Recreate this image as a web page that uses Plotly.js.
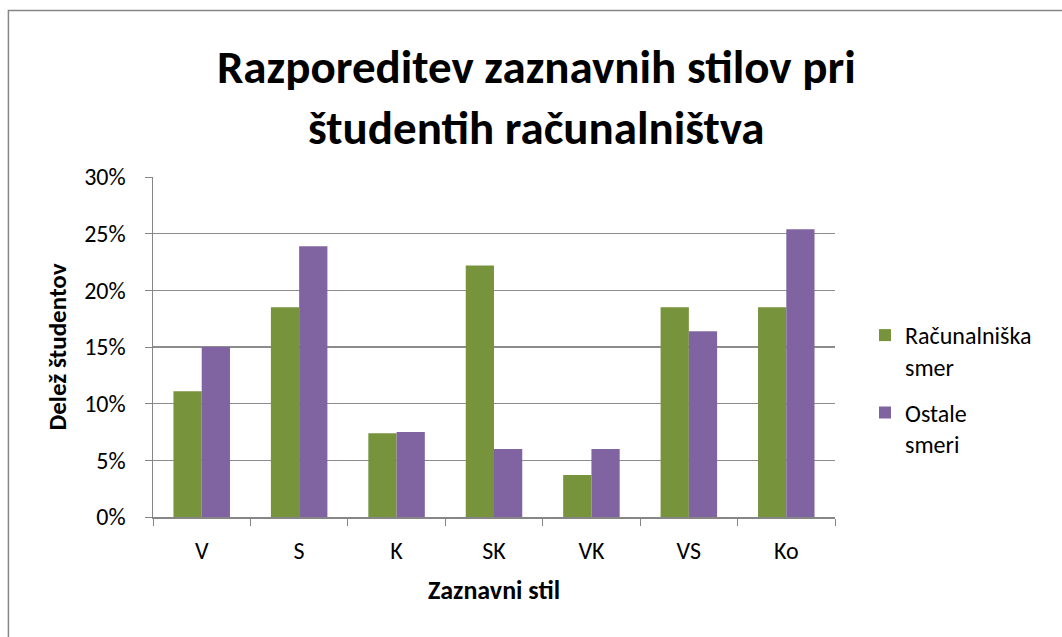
<!DOCTYPE html>
<html>
<head>
<meta charset="utf-8">
<script src="https://cdn.plot.ly/plotly-3.0.1.min.js"></script>
<style>html,body{margin:0;padding:0;background:#fff;}#chart{width:1062px;height:637px;}</style>
</head>
<body>
<div id="chart"></div>
<script>
const categories = ["V", "S", "K", "SK", "VK", "VS", "Ko"];
const racunalniskaSmer = [11.1, 18.5, 7.4, 22.2, 3.7, 18.5, 18.5];
const ostaleSmeri = [15.0, 23.9, 7.5, 6.0, 6.0, 16.4, 25.4];
const seriesNames = ["Računalniška<br>smer", "Ostale<br>smeri"];
const yTicks = [0, 5, 10, 15, 20, 25, 30];
const yTickLabels = ["0%", "5%", "10%", "15%", "20%", "25%", "30%"];

const font = "Carlito, 'Open Sans', 'Noto Sans', sans-serif";

const traces = [
  {type: "bar", name: seriesNames[0], legendgroup: "g1", x: categories, y: racunalniskaSmer,
   marker: {color: "#77933C"}},
  {type: "bar", name: seriesNames[1], legendgroup: "g2", x: categories, y: ostaleSmeri,
   marker: {color: "#8064A2"}}
];

const layout = {
  width: 1062, height: 637,
  paper_bgcolor: "#fff", plot_bgcolor: "#fff",
  font: {family: font, color: "#000", size: 24},
  margin: {l: 153, r: 227, t: 177, b: 120, pad: 0},
  barmode: "group", bargap: 0.42, bargroupgap: 0,
  title: {text: "<b>Razporeditev zaznavnih stilov pri<br>študentih računalništva</b>",
          font: {family: font, size: 47, color: "#000"},
          x: 0.505, xref: "container", xanchor: "center", y: 0.87, yref: "container", yanchor: "middle"},
  xaxis: {type: "category", tickson: "boundaries", ticks: "outside", ticklen: 7,
          tickcolor: "#868686", showline: true, linecolor: "#868686", linewidth: 1.5,
          showgrid: false, tickfont: {size: 24}, ticklabelstandoff: 12,
          title: {text: "<b>Zaznavni stil</b>", font: {size: 26}, standoff: 16}},
  yaxis: {range: [0, 30], tickmode: "array", tickvals: yTicks, ticktext: yTickLabels,
          ticks: "outside", ticklen: 7,
          tickcolor: "#868686", showline: true, linecolor: "#868686", linewidth: 1.5,
          showgrid: true, gridcolor: "#8c8c8c", gridwidth: 1.3, zeroline: false,
          tickfont: {size: 24}, ticklabelstandoff: 14,
          title: {text: "<b>Delež študentov</b>", font: {size: 25}, standoff: 10}},
  legend: {x: 1.044, xanchor: "left", y: 0.6, yanchor: "top", valign: "top",
           font: {size: 24}, tracegroupgap: 12, itemwidth: 30, bgcolor: "rgba(0,0,0,0)"},
  shapes: [{type: "rect", xref: "paper", yref: "paper", x0: -0.212, x1: 1.4, y0: -0.5, y1: 1.49,
            line: {color: "#868686", width: 1.5}, fillcolor: "rgba(0,0,0,0)", layer: "below"}]
};

Plotly.newPlot("chart", traces, layout, {displayModeBar: false, staticPlot: true});
</script>
</body>
</html>
